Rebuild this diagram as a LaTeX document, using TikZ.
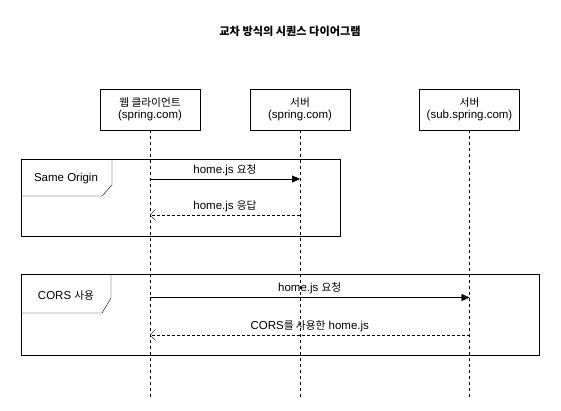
\documentclass[tikz,border=0pt]{standalone}
\usepackage{fontspec}
\setmainfont{Liberation Sans}
\newfontfamily\kr[Scale=0.93]{Noto Sans CJK KR}
\usetikzlibrary{arrows.meta}
\begin{document}
\begin{tikzpicture}[x=1pt,y=-1pt,font=\fontsize{11.5}{12.5}\selectfont]
    \tikzstyle{actor}=[draw,minimum width=100pt,minimum height=41pt,align=center,inner sep=0pt]
    \tikzstyle{life}=[dash pattern=on 3pt off 3pt]
    \tikzstyle{call}=[-{Triangle[length=8pt,width=7pt]}]
    \tikzstyle{reply}=[dash pattern=on 3pt off 2pt,-{Straight Barb[length=5pt,width=11pt]}]
    \tikzstyle{msg}=[above]
    \useasboundingbox (0,0) rectangle (561,411);

    \node[font=\bfseries\fontsize{12}{13}\selectfont] (title) at (290,31) {{\kr 교차 방식의 시퀀스 다이어그램}};

    \node[actor] (client) at (150,109.5) {{\kr 웹 클라이언트}\\(spring.com)};
    \node[actor] (server) at (300,109.5) {{\kr 서버}\\(spring.com)};
    \node[actor] (subserver) at (469.5,109.5) {{\kr 서버}\\(sub.spring.com)};

    % frames
    \draw (21,159) rectangle (340,236);
    \draw (21,196) -- (102,196) -- (112,185) -- (112,159);
      \node (same) at (66,179) {Same Origin};
    \draw (21,274) rectangle (539,355);
    \draw (21,313) -- (102,313) -- (111,298) -- (111,274);
      \node (cors) at (66,295) {CORS {\kr 사용}};

    % lifelines
    \coordinate (clientend) at (150,398);
    \coordinate (serverend) at (300,398);
    \coordinate (subserverend) at (469.5,398);
    \draw[life] (client.south) -- (clientend);
    \draw[life] (server.south) -- (serverend);
    \draw[life] (subserver.south) -- (subserverend);

    % messages
    \coordinate (c1) at (150,179);   \coordinate (s1) at (300,179);
    \coordinate (c2) at (150,215);   \coordinate (s2) at (300,215);
    \coordinate (c3) at (150,297.5); \coordinate (s3) at (469.5,297.5);
    \coordinate (c4) at (150,335);   \coordinate (s4) at (469.5,335);
    \draw[call] (c1) -- node[msg] {home.js {\kr 요청}} (s1);
    \draw[reply] (s2) -- node[msg] {home.js {\kr 응답}} (c2);
    \draw[call] (c3) -- node[msg] {home.js {\kr 요청}} (s3);
    \draw[reply] (s4) -- node[msg] {CORS{\kr 를 사용한} home.js} (c4);
  \end{tikzpicture}
\end{document}
